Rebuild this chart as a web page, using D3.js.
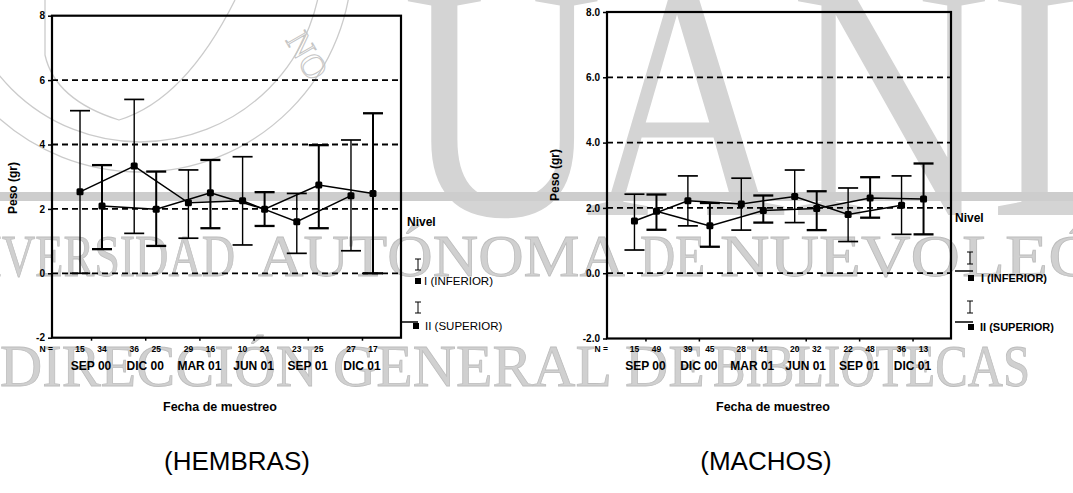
<!DOCTYPE html>
<html><head><meta charset="utf-8">
<script src="https://cdn.jsdelivr.net/npm/d3@7"></script>
<style>
html,body{margin:0;padding:0;background:#fff;}
svg{display:block;}
text{font-family:"Liberation Sans",Arial,sans-serif;}
text.serif{font-family:"Liberation Serif","Times New Roman",serif;}
</style></head><body>
<svg id="chart" width="1073" height="493"></svg>
<script>
// ---------- data ----------
const months = ["SEP 00","DIC 00","MAR 01","JUN 01","SEP 01","DIC 01"];
const levels = ["I","II"];
const levelLabels = ["I (INFERIOR)","II (SUPERIOR)"];

const hembrasMeanI  = [2.53,3.33,2.19,2.25,1.60,2.41];
const hembrasLowI   = [0.00,1.24,1.09,0.88,0.62,0.70];
const hembrasHighI  = [5.05,5.40,3.21,3.62,2.48,4.14];
const hembrasMeanII = [2.09,1.99,2.50,1.99,2.74,2.48];
const hembrasLowII  = [0.75,0.85,1.40,1.47,1.40,0.00];
const hembrasHighII = [3.36,3.16,3.52,2.52,3.98,4.97];
const hembrasN_I  = ["15","36","29","10","23","27"];
const hembrasN_II = ["34","25","16","24","25","17"];

const machosMeanI  = [1.60,2.22,2.12,2.35,1.80,2.08];
const machosLowI   = [0.71,1.45,1.32,1.55,0.97,1.19];
const machosHighI  = [2.42,2.98,2.91,3.16,2.61,2.98];
const machosMeanII = [1.90,1.45,1.92,1.98,2.30,2.27];
const machosLowII  = [1.33,0.81,1.55,1.32,1.70,1.19];
const machosHighII = [2.41,2.15,2.38,2.51,2.94,3.36];
const machosN_I  = ["15","39","28","20","22","36"];
const machosN_II = ["49","45","41","32","48","13"];

const yTickValues = [-2,0,2,4,6,8];
const hembrasYTickLabels = ["-2","0","2","4","6","8"];
const machosYTickLabels  = ["-2.0","0.0","2.0","4.0","6.0","8.0"];
const gridValues = [0,2,4,6];

const wmLine1 = ["UNIVERSIDAD","AUTÓNOMA","DE","NUEVO","LEÓN"];
const wmLine2 = ["DIRECCIÓN","GENERAL","DE","BIBLIOTECAS"];
const wmBig = ["U","A","N","L"];

// ---------- drawing ----------
const svg = d3.select("#chart");
const WM = "#d4d4d4";

// watermark
const wm = svg.append("g");
wm.append("circle").attr("cx",140).attr("cy",-40).attr("r",212).attr("fill","none").attr("stroke","#cbcbcb").attr("stroke-width",1.3);
wm.append("circle").attr("cx",140).attr("cy",-40).attr("r",182).attr("fill","none").attr("stroke","#cbcbcb").attr("stroke-width",1.3);
wm.append("path").attr("d","M45,0 L45,55 Q55,100 119,120 Q185,100 235,0").attr("fill","none").attr("stroke","#cbcbcb").attr("stroke-width",1.3);
wm.append("text").attr("class","serif").attr("x",285).attr("y",40).attr("font-size",34)
  .attr("fill","none").attr("stroke","#c4c4c4").attr("transform","rotate(60,285,40)").text("NO");
const bigX = [402,585,790,990];
wmBig.forEach((ch,i)=>{
  wm.append("text").attr("class","serif").attr("transform",`translate(${bigX[i]},215) scale(0.82,1)`)
    .attr("font-size",340).attr("fill",WM).text(ch);
});
wm.append("rect").attr("x",0).attr("y",192).attr("width",1073).attr("height",9).attr("fill","#cdcdcd");
const l1 = [[-80,235],[258,625],[640,705],[720,960],[962,1150]];
wmLine1.forEach((w,i)=>{
  wm.append("text").attr("class","serif").attr("x",l1[i][0]).attr("y",276).attr("textLength",l1[i][1]-l1[i][0]).attr("lengthAdjust","spacingAndGlyphs")
    .attr("font-size",60).attr("fill","#d0d0d0").attr("stroke","#bdbdbd").attr("stroke-width",0.8).text(w);
});
const l2 = [[0,318],[333,612],[625,705],[713,1030]];
wmLine2.forEach((w,i)=>{
  wm.append("text").attr("class","serif").attr("x",l2[i][0]).attr("y",386).attr("textLength",l2[i][1]-l2[i][0]).attr("lengthAdjust","spacingAndGlyphs")
    .attr("font-size",60).attr("fill","#d0d0d0").attr("stroke","#bdbdbd").attr("stroke-width",0.8).text(w);
});

function drawPanel(cfg){
  const g = svg.append("g");
  const x = d3.scalePoint().domain(months).range([cfg.left,cfg.right]).padding(0.72);
  const off = d3.scalePoint().domain(levels).range([-11,11]);
  const y = d3.scaleLinear().domain([-2,8]).range([cfg.bottom,cfg.top]);

  g.selectAll(".grid").data(gridValues).join("line")
    .attr("x1",cfg.left).attr("x2",cfg.right).attr("y1",d=>y(d)).attr("y2",d=>y(d))
    .attr("stroke","#000").attr("stroke-width",1.8).attr("stroke-dasharray","6,4");

  const ya = g.append("g").attr("transform",`translate(${cfg.left},0)`)
    .call(d3.axisLeft(y).tickValues(yTickValues).tickSize(4).tickPadding(3).tickFormat((d,i)=>cfg.yLabels[i]));
  ya.select(".domain").remove();
  ya.selectAll("line").attr("stroke-width",1.5);
  ya.selectAll("text").attr("font-size",10).attr("font-weight","bold").attr("font-family",null);
  const xa = g.append("g").attr("transform",`translate(0,${cfg.bottom})`)
    .call(d3.axisBottom(x).tickSize(3).tickFormat(""));
  xa.select(".domain").remove();
  xa.selectAll("line").attr("stroke-width",1.5);

  g.append("rect").attr("x",cfg.left).attr("y",cfg.top).attr("width",cfg.right-cfg.left).attr("height",cfg.bottom-cfg.top)
    .attr("fill","none").attr("stroke","#000").attr("stroke-width",2.2);

  cfg.series.forEach((s,si)=>{
    const lev = levels[si];
    const data = months.map((m,i)=>({m, mean:s.mean[i], lo:s.lo[i], hi:s.hi[i]}));
    const px = d=>x(d.m)+off(lev);
    const sw = si===0?1.4:2.0;
    const eb = g.append("g");
    eb.selectAll("line.v").data(data).join("line").attr("x1",px).attr("x2",px)
      .attr("y1",d=>y(d.lo)).attr("y2",d=>y(d.hi)).attr("stroke","#000").attr("stroke-width",sw);
    eb.selectAll("line.t").data(data).join("line").attr("x1",d=>px(d)-10).attr("x2",d=>px(d)+10)
      .attr("y1",d=>y(d.hi)).attr("y2",d=>y(d.hi)).attr("stroke","#000").attr("stroke-width",sw+0.3);
    eb.selectAll("line.b").data(data).join("line").attr("x1",d=>px(d)-10).attr("x2",d=>px(d)+10)
      .attr("y1",d=>y(d.lo)).attr("y2",d=>y(d.lo)).attr("stroke","#000").attr("stroke-width",sw+0.3);
    g.append("path").datum(data).attr("fill","none").attr("stroke","#000").attr("stroke-width",1.5)
      .attr("d",d3.line().x(px).y(d=>y(d.mean)));
    g.selectAll(null).data(data).join("rect").attr("x",d=>px(d)-3.5).attr("y",d=>y(d.mean)-3.5)
      .attr("width",7).attr("height",7).attr("rx",1.5).attr("fill","#000");
    g.selectAll(null).data(s.n).join("text").attr("x",(d,i)=>x(months[i])+off(lev)).attr("y",cfg.nY)
      .attr("text-anchor","middle").attr("font-size",8.5).attr("font-weight","bold").text(d=>d);
  });
  g.append("text").attr("x",cfg.left+1).attr("y",cfg.nY).attr("text-anchor","end")
    .attr("font-size",8.5).attr("font-weight","bold").text("N =");
  g.selectAll(null).data(months).join("text").attr("x",d=>x(d)).attr("y",cfg.monthY)
    .attr("text-anchor","middle").attr("font-size",12).attr("font-weight","bold").text(d=>d);

  g.append("text").attr("x",cfg.fechaX).attr("y",411).attr("text-anchor","middle")
    .attr("font-size",12.5).attr("font-weight","bold").text("Fecha de muestreo");
  g.append("text").attr("transform",`translate(${cfg.pesoX},${cfg.pesoY}) rotate(-90)`).attr("text-anchor","middle")
    .attr("font-size",12).attr("font-weight","bold").text("Peso (gr)");
  g.append("text").attr("x",cfg.titleX).attr("y",470).attr("text-anchor","middle")
    .attr("font-size",26).text(cfg.title);

  const L = cfg.legend;
  g.append("text").attr("x",L.x).attr("y",L.nivelY).attr("font-size",12).attr("font-weight","bold").text("Nivel");
  levelLabels.forEach((lab,i)=>{
    const e = L.entries[i];
    g.append("line").attr("x1",e.gx).attr("x2",e.gx).attr("y1",e.g0).attr("y2",e.g1).attr("stroke","#000").attr("stroke-width",1);
    [e.g0,e.g1].forEach(yy=>g.append("line").attr("x1",e.gx-3).attr("x2",e.gx+3).attr("y1",yy).attr("y2",yy).attr("stroke","#000").attr("stroke-width",1));
    if(e.line) g.append("line").attr("x1",e.line[0]).attr("x2",e.line[1]).attr("y1",e.line[2]).attr("y2",e.line[2]).attr("stroke","#000").attr("stroke-width",1.5);
    g.append("rect").attr("x",e.sx-3).attr("y",e.sy-3).attr("width",6).attr("height",6).attr("fill","#000");
    g.append("text").attr("x",e.tx).attr("y",e.sy+4).attr("font-size",L.fs).attr("font-weight",L.fw).text(lab);
  });
}

drawPanel({left:52,right:401,top:15.7,bottom:337.7,yLabels:hembrasYTickLabels,
  series:[{mean:hembrasMeanI,lo:hembrasLowI,hi:hembrasHighI,n:hembrasN_I},
          {mean:hembrasMeanII,lo:hembrasLowII,hi:hembrasHighII,n:hembrasN_II}],
  nY:352,monthY:370,fechaX:220,pesoX:17,pesoY:188,titleX:237,title:"(HEMBRAS)",
  legend:{x:407,nivelY:226,fs:11.5,fw:"normal",entries:[
    {gx:418,g0:259,g1:270,sx:418,sy:281,tx:424,line:null},
    {gx:418,g0:302,g1:313,sx:416,sy:326,tx:425,line:[402,418,322]}]}});

drawPanel({left:607,right:951,top:12,bottom:338.5,yLabels:machosYTickLabels,
  series:[{mean:machosMeanI,lo:machosLowI,hi:machosHighI,n:machosN_I},
          {mean:machosMeanII,lo:machosLowII,hi:machosHighII,n:machosN_II}],
  nY:352,monthY:370,fechaX:773,pesoX:559,pesoY:175,titleX:766,title:"(MACHOS)",
  legend:{x:955,nivelY:222,fs:11,fw:"bold",entries:[
    {gx:970,g0:252,g1:264,sx:971,sy:278,tx:981,line:[955,973,271]},
    {gx:970,g0:301,g1:313,sx:971,sy:327,tx:980,line:[955,973,322]}]}});
</script>
</body></html>
